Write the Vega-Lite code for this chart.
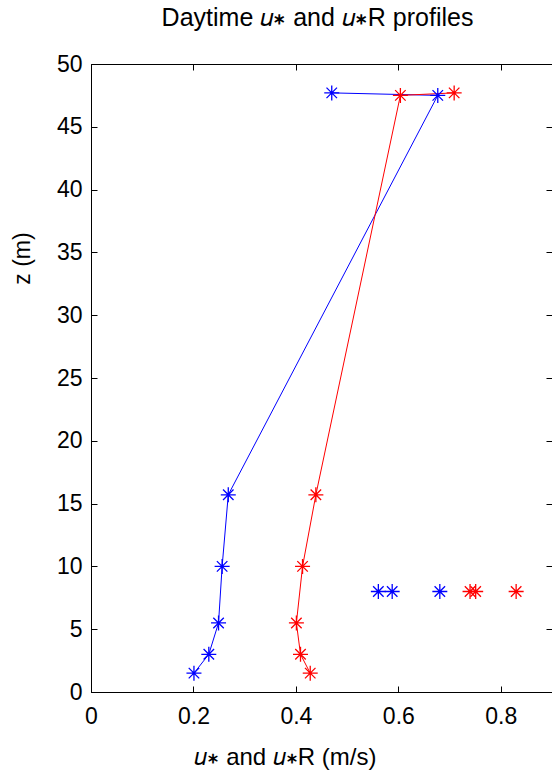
{
  "$schema": "https://vega.github.io/schema/vega-lite/v6.json",
  "width": 461,
  "height": 628,
  "autosize": "none",
  "padding": {"left": 91, "top": 64, "right": 0, "bottom": 84},
  "background": "white",
  "title": {
    "text": "Daytime 𝑢∗ and 𝑢∗R profiles",
    "font": "Liberation Sans",
    "fontSize": 25,
    "fontWeight": "normal",
    "color": "black",
    "anchor": "middle",
    "baseline": "alphabetic",
    "offset": 2,
    "dx": -4
  },
  "config": {
    "view": {"stroke": "black", "strokeWidth": 1},
    "axis": {
      "labelFont": "Liberation Sans",
      "labelFontSize": 23,
      "labelColor": "black",
      "labelFlush": false,
      "titleFont": "Liberation Sans",
      "titleFontSize": 23,
      "titleFontWeight": "normal",
      "titleColor": "black",
      "tickColor": "black",
      "domainColor": "black",
      "grid": false
    }
  },
  "data": {
    "values": [
      {"series": "u*", "u": 0.470, "z": 47.7, "ord": 1, "line": true},
      {"series": "u*", "u": 0.677, "z": 47.5, "ord": 2, "line": true},
      {"series": "u*", "u": 0.268, "z": 15.7, "ord": 3, "line": true},
      {"series": "u*", "u": 0.256, "z": 10, "ord": 4, "line": true},
      {"series": "u*", "u": 0.249, "z": 5.5, "ord": 5, "line": true},
      {"series": "u*", "u": 0.230, "z": 3, "ord": 6, "line": true},
      {"series": "u*", "u": 0.201, "z": 1.5, "ord": 7, "line": true},
      {"series": "u*R", "u": 0.709, "z": 47.7, "ord": 1, "line": true},
      {"series": "u*R", "u": 0.604, "z": 47.5, "ord": 2, "line": true},
      {"series": "u*R", "u": 0.439, "z": 15.7, "ord": 3, "line": true},
      {"series": "u*R", "u": 0.413, "z": 10, "ord": 4, "line": true},
      {"series": "u*R", "u": 0.401, "z": 5.5, "ord": 5, "line": true},
      {"series": "u*R", "u": 0.409, "z": 3, "ord": 6, "line": true},
      {"series": "u*R", "u": 0.428, "z": 1.5, "ord": 7, "line": true},
      {"series": "u*", "u": 0.561, "z": 8, "ord": 8, "line": false},
      {"series": "u*", "u": 0.588, "z": 8, "ord": 9, "line": false},
      {"series": "u*", "u": 0.681, "z": 8, "ord": 10, "line": false},
      {"series": "u*R", "u": 0.740, "z": 8, "ord": 8, "line": false},
      {"series": "u*R", "u": 0.751, "z": 8, "ord": 9, "line": false},
      {"series": "u*R", "u": 0.830, "z": 8, "ord": 10, "line": false}
    ]
  },
  "resolve": {"axis": {"x": "independent", "y": "independent"}},
  "layer": [
    {
      "transform": [{"filter": "datum.line"}],
      "mark": {"type": "line", "strokeWidth": 1, "clip": false},
      "encoding": {
        "x": {
          "field": "u", "type": "quantitative",
          "scale": {"domain": [0, 0.9], "nice": false, "zero": false},
          "axis": {
            "orient": "bottom",
            "values": [0, 0.2, 0.4, 0.6, 0.8],
            "format": ".1~f",
            "tickSize": -6,
            "labelPadding": 19,
            "title": "𝑢∗ and 𝑢∗R (m/s)",
            "titleFontSize": 24,
            "titleAnchor": "start",
            "titleX": 194,
            "titleY": 72,
            "titleAlign": "center",
            "titleBaseline": "alphabetic"
          }
        },
        "y": {
          "field": "z", "type": "quantitative",
          "scale": {"domain": [0, 50], "nice": false, "zero": false},
          "axis": {
            "orient": "left",
            "values": [0, 5, 10, 15, 20, 25, 30, 35, 40, 45, 50],
            "tickSize": -6,
            "labelPadding": 15,
            "title": "z (m)",
            "titleAngle": -90,
            "titleX": -69,
            "titleY": 194,
            "titleAlign": "center",
            "titleBaseline": "middle"
          }
        },
        "color": {
          "field": "series", "type": "nominal",
          "scale": {"domain": ["u*", "u*R"], "range": ["#0000ff", "#ff0000"]},
          "legend": null
        },
        "order": {"field": "ord", "type": "quantitative"}
      }
    },
    {
      "mark": {
        "type": "point",
        "shape": "M0,-1L0,1M-1,0L1,0M-0.7,-0.7L0.7,0.7M-0.7,0.7L0.7,-0.7",
        "filled": false,
        "size": 225,
        "strokeWidth": 1.3,
        "opacity": 1
      },
      "encoding": {
        "x": {
          "field": "u", "type": "quantitative",
          "scale": {"domain": [0, 0.9], "nice": false, "zero": false},
          "axis": {
            "orient": "top",
            "values": [0, 0.2, 0.4, 0.6, 0.8],
            "labels": false,
            "domain": false,
            "tickSize": -6,
            "title": null
          }
        },
        "y": {
          "field": "z", "type": "quantitative",
          "scale": {"domain": [0, 50], "nice": false, "zero": false},
          "axis": {
            "orient": "right",
            "values": [0, 5, 10, 15, 20, 25, 30, 35, 40, 45, 50],
            "labels": false,
            "domain": false,
            "tickSize": -6,
            "title": null
          }
        },
        "color": {
          "field": "series", "type": "nominal",
          "scale": {"domain": ["u*", "u*R"], "range": ["#0000ff", "#ff0000"]},
          "legend": null
        }
      }
    }
  ]
}
